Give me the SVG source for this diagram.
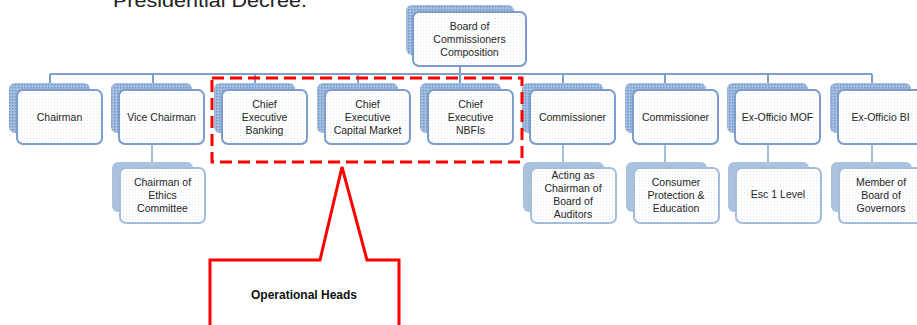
<svg xmlns="http://www.w3.org/2000/svg" width="917" height="325" viewBox="0 0 917 325">
<defs>
<pattern id="dots1" width="3" height="3" patternUnits="userSpaceOnUse">
<rect width="3" height="3" fill="#a6bfe0"/>
<rect width="1.5" height="1.5" fill="#7196c8"/>
</pattern>
<pattern id="dotsF" width="3" height="3" patternUnits="userSpaceOnUse">
<rect width="3" height="3" fill="#ffffff"/>
<rect width="1" height="1" fill="#dfe7f2"/>
</pattern>
<style>
.sh1{fill:url(#dots1);}
.sh2{fill:#abc2df;}
.fr1{fill:url(#dotsF);stroke:#7b9dcb;stroke-width:2;}
.fr2{fill:url(#dotsF);stroke:#a5bddc;stroke-width:2;}
.t{font-family:"Liberation Sans",Arial,sans-serif;font-size:10.5px;fill:#262626;text-anchor:middle;}
.c{stroke:#7fa0cc;stroke-width:2;fill:none;}
.c2{stroke:#a5bddc;stroke-width:2;fill:none;}
</style>
</defs>
<rect width="917" height="325" fill="#ffffff"/>
<text x="113" y="7" font-family="Liberation Sans,Arial,sans-serif" font-size="18" fill="#222" textLength="194" lengthAdjust="spacingAndGlyphs">Presidential Decree.</text>
<g id="connectors">
<path class="c" d="M460,65 V74 M50,74 H872 M50,74 V83 M153,74 V83 M255,74 V83 M358,74 V83 M460,74 V83 M563,74 V83 M665,74 V83 M768,74 V83 M872,74 V83"/>
<path class="c2" d="M152,144 V162 M563,144 V162 M665,144 V162 M768,144 V162 M872,144 V162"/>
</g>
<g id="board">
<rect class="sh1" x="406" y="5" width="108" height="50" rx="6"/>
<rect class="fr1" x="413" y="12" width="113" height="54" rx="6"/>
<text class="t"><tspan x="469.5" y="30">Board of</tspan><tspan x="469.5" y="43">Commissioners</tspan><tspan x="469.5" y="56">Composition</tspan></text>
</g>
<g id="chairman">
<rect class="sh1" x="9" y="83" width="81" height="50" rx="6"/>
<rect class="fr1" x="17" y="90" width="85" height="54" rx="6"/>
<text class="t" x="59.5" y="121">Chairman</text>
</g>
<g id="vice-chairman">
<rect class="sh1" x="111" y="83" width="81" height="50" rx="6"/>
<rect class="fr1" x="119" y="90" width="85" height="54" rx="6"/>
<text class="t" x="161.5" y="121">Vice Chairman</text>
</g>
<g id="ce-banking">
<rect class="sh1" x="214" y="83" width="81" height="50" rx="6"/>
<rect class="fr1" x="222" y="90" width="85" height="54" rx="6"/>
<text class="t"><tspan x="264.5" y="108">Chief</tspan><tspan x="264.5" y="121">Executive</tspan><tspan x="264.5" y="134">Banking</tspan></text>
</g>
<g id="ce-capital-market">
<rect class="sh1" x="317" y="83" width="81" height="50" rx="6"/>
<rect class="fr1" x="325" y="90" width="85" height="54" rx="6"/>
<text class="t"><tspan x="367.5" y="108">Chief</tspan><tspan x="367.5" y="121">Executive</tspan><tspan x="367.5" y="134">Capital Market</tspan></text>
</g>
<g id="ce-nbfis">
<rect class="sh1" x="420" y="83" width="81" height="50" rx="6"/>
<rect class="fr1" x="428" y="90" width="85" height="54" rx="6"/>
<text class="t"><tspan x="470.5" y="108">Chief</tspan><tspan x="470.5" y="121">Executive</tspan><tspan x="470.5" y="134">NBFIs</tspan></text>
</g>
<g id="commissioner1">
<rect class="sh1" x="522" y="83" width="81" height="50" rx="6"/>
<rect class="fr1" x="530" y="90" width="85" height="54" rx="6"/>
<text class="t" x="572.5" y="121">Commissioner</text>
</g>
<g id="commissioner2">
<rect class="sh1" x="625" y="83" width="81" height="50" rx="6"/>
<rect class="fr1" x="633" y="90" width="85" height="54" rx="6"/>
<text class="t" x="675.5" y="121">Commissioner</text>
</g>
<g id="ex-officio-mof">
<rect class="sh1" x="727" y="83" width="81" height="50" rx="6"/>
<rect class="fr1" x="735" y="90" width="85" height="54" rx="6"/>
<text class="t" x="777.5" y="121">Ex-Officio MOF</text>
</g>
<g id="ex-officio-bi">
<rect class="sh1" x="830" y="83" width="81" height="50" rx="6"/>
<rect class="fr1" x="838" y="90" width="85" height="54" rx="6"/>
<text class="t" x="880.5" y="121">Ex-Officio BI</text>
</g>
<g id="ethics">
<rect class="sh2" x="112" y="162" width="81" height="50" rx="6"/>
<rect class="fr2" x="120" y="168" width="85" height="55" rx="6"/>
<text class="t"><tspan x="162.5" y="186">Chairman of</tspan><tspan x="162.5" y="199">Ethics</tspan><tspan x="162.5" y="212">Committee</tspan></text>
</g>
<g id="auditors">
<rect class="sh2" x="523" y="162" width="81" height="50" rx="6"/>
<rect class="fr2" x="531" y="168" width="85" height="55" rx="6"/>
<text class="t"><tspan x="573" y="179">Acting as</tspan><tspan x="573" y="192">Chairman of</tspan><tspan x="573" y="205">Board of</tspan><tspan x="573" y="218">Auditors</tspan></text>
</g>
<g id="consumer">
<rect class="sh2" x="626" y="162" width="81" height="50" rx="6"/>
<rect class="fr2" x="634" y="168" width="85" height="55" rx="6"/>
<text class="t"><tspan x="676" y="186">Consumer</tspan><tspan x="676" y="199">Protection &amp;</tspan><tspan x="676" y="212">Education</tspan></text>
</g>
<g id="esc1">
<rect class="sh2" x="728" y="162" width="81" height="50" rx="6"/>
<rect class="fr2" x="736" y="168" width="85" height="55" rx="6"/>
<text class="t" x="778" y="198">Esc 1 Level</text>
</g>
<g id="governors">
<rect class="sh2" x="831" y="162" width="81" height="50" rx="6"/>
<rect class="fr2" x="839" y="168" width="85" height="55" rx="6"/>
<text class="t"><tspan x="881" y="186">Member of</tspan><tspan x="881" y="199">Board of</tspan><tspan x="881" y="212">Governors</tspan></text>
</g>
<g id="operational-group">
<rect x="212" y="78" width="310" height="84" fill="none" stroke="#ff0000" stroke-width="3" stroke-dasharray="12 6"/>
</g>
<g id="operational-heads">
<path d="M210,326 V260 H320 L342,167 L367,260 H399 V326" fill="#ffffff" stroke="#ff0000" stroke-width="3"/>
<text x="304" y="299" font-family="Liberation Sans,Arial,sans-serif" font-size="12" font-weight="bold" fill="#111" text-anchor="middle">Operational Heads</text>
</g>
</svg>
